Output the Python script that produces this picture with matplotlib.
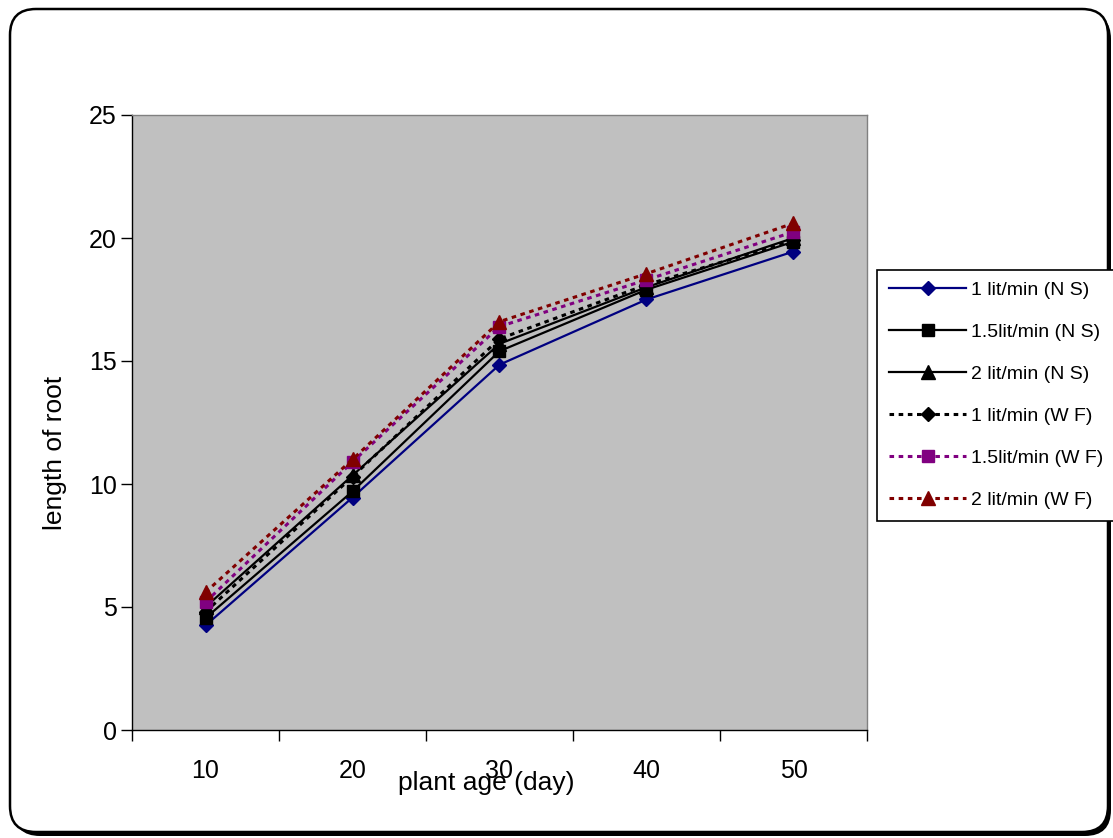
import matplotlib
matplotlib.use("Agg")
import matplotlib.pyplot as plt
from matplotlib.patches import FancyBboxPatch
import numpy as np

plt.rcParams['font.family'] = ['Liberation Sans', 'DejaVu Sans']

ages = ["10", "20", "30", "40", "50"]
ns_1 = [4.25, 9.45, 14.85, 17.5, 19.45]
ns_15 = [4.55, 9.7, 15.4, 17.9, 19.85]
ns_2 = [5.0, 10.35, 15.7, 18.0, 20.0]
wf_1 = [4.8, 10.3, 15.9, 18.1, 19.9]
wf_15 = [5.2, 10.9, 16.4, 18.3, 20.25]
wf_2 = [5.6, 11.0, 16.6, 18.55, 20.6]
y_ticks = [0, 5, 10, 15, 20, 25]

W, H = 1113, 838
fig = plt.figure(figsize=(W / 100, H / 100), dpi=100)

# background layer in pixel units for the rounded chart frame
bg = fig.add_axes([0, 0, 1, 1])
bg.set_xlim(0, W)
bg.set_ylim(H, 0)
bg.axis("off")
bg.set_zorder(0)
bg.add_patch(FancyBboxPatch((14, 13), 1097, 823,
                            boxstyle="round,pad=0,rounding_size=26",
                            facecolor="black", edgecolor="black", lw=0))
bg.add_patch(FancyBboxPatch((10, 9), 1098, 823,
                            boxstyle="round,pad=0,rounding_size=26",
                            facecolor="white", edgecolor="black", lw=1.8))

ax = fig.add_axes([132 / W, 1 - 730 / H, 735 / W, 615 / H])
ax.set_facecolor("#c0c0c0")
ax.set_zorder(2)

x = np.arange(len(ages))
dot = (0, (1.5, 1.5))
series = [
    (ns_1, "1 lit/min (N S)", "#000080", "-", "D", 7.5),
    (ns_15, "1.5lit/min (N S)", "black", "-", "s", 8.5),
    (ns_2, "2 lit/min (N S)", "black", "-", "^", 9.5),
    (wf_1, "1 lit/min (W F)", "black", dot, "D", 7.5),
    (wf_15, "1.5lit/min (W F)", "#800080", dot, "s", 8.5),
    (wf_2, "2 lit/min (W F)", "#800000", dot, "^", 9.5),
]
for vals, lab, col, ls, mk, ms in series:
    ax.plot(x, vals, color=col, linestyle=ls, linewidth=1.6 if ls == "-" else 2.2,
            marker=mk, markersize=ms, markerfacecolor=col, markeredgecolor=col,
            label=lab)

ax.set_xlim(-0.5, len(ages) - 0.5)
ax.set_ylim(0, 25)
ax.set_yticks(y_ticks)
ax.set_yticklabels([str(t) for t in y_ticks], fontsize=18)
ax.set_xticks(np.arange(-0.5, len(ages), 1.0))
ax.set_xticklabels([])
ax.set_xticks(x, minor=True)
ax.set_xticklabels(ages, minor=True, fontsize=18)
ax.tick_params(axis="x", which="major", direction="out", length=8, width=1, color="black")
ax.tick_params(axis="x", which="minor", length=0, pad=21)
ax.tick_params(axis="y", direction="out", length=8, width=1, pad=3)

for side in ["top", "right"]:
    ax.spines[side].set_color("#808080")
    ax.spines[side].set_linewidth(1)
for side in ["left", "bottom"]:
    ax.spines[side].set_color("black")
    ax.spines[side].set_linewidth(1)

fig.text(486 / W, 1 - 783 / H, "plant age (day)", fontsize=19,
         ha="center", va="center", zorder=5)
fig.text(55 / W, 1 - 453 / H, "length of root", fontsize=19,
         ha="center", va="center", rotation=90, zorder=5)

leg = fig.legend(loc="upper left", bbox_to_anchor=(877 / W, 1 - 270 / H),
                 bbox_transform=fig.transFigure, fontsize=14, frameon=True,
                 fancybox=False, edgecolor="black", framealpha=1,
                 handlelength=4.0, handletextpad=0.25, labelspacing=1.25,
                 borderpad=0.6, borderaxespad=0, numpoints=1)
leg.get_frame().set_linewidth(1.2)
leg.set_zorder(6)

fig.savefig("out.png", dpi=100)
